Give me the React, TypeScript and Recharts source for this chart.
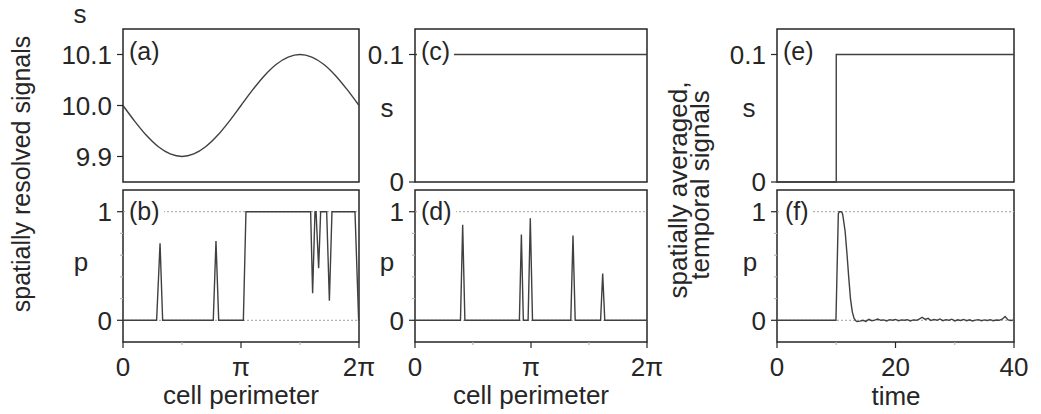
import React from "react";
import { LineChart, Line, XAxis, YAxis, ReferenceLine, ReferenceArea } from "recharts";

const FONT = "'Liberation Sans', Arial, Helvetica, sans-serif";
const INK = "#262626";
const TRACE = "#404040";
const FS = 26;

// (a) spatially resolved s along the perimeter (x in units of pi)
const perimA = [0, 0.1, 0.2, 0.3, 0.4, 0.5, 0.6, 0.7, 0.8, 0.9, 1.0, 1.1, 1.2, 1.3, 1.4, 1.5, 1.6, 1.7, 1.8, 1.9, 2.0];
const sA = [10.0, 9.969, 9.941, 9.919, 9.905, 9.9, 9.905, 9.919, 9.941, 9.969, 10.0, 10.031, 10.059, 10.081, 10.095, 10.1, 10.095, 10.081, 10.059, 10.031, 10.0];

// (b) spatially resolved p
const perimB = [0, 0.285, 0.314, 0.336, 0.765, 0.788, 0.811, 1.02, 1.042, 1.59, 1.607, 1.627, 1.636, 1.658, 1.675, 1.726, 1.749, 1.771, 1.966, 1.997, 2.0];
const pB = [0, 0, 0.71, 0, 0, 0.73, 0, 0, 1, 1, 0.25, 1, 1, 0.48, 1, 1, 0.18, 1, 1, 0, 0];

// (c) uniform s
const perimC = [0, 2];
const sC = [0.1, 0.1];

// (d) spatially resolved p for uniform s
const perimD = [0, 0.392, 0.411, 0.43, 0.9, 0.917, 0.934, 0.975, 0.994, 1.013, 1.343, 1.362, 1.381, 1.6, 1.618, 1.636, 2.0];
const pD = [0, 0, 0.88, 0, 0, 0.79, 0, 0, 0.94, 0, 0, 0.78, 0, 0, 0.43, 0, 0];

// (e) spatially averaged s over time
const timeE = [0, 10, 10, 40];
const sE = [0, 0, 0.1, 0.1];

// (f) spatially averaged p over time
const timeF = [
  0, 5, 9.95, 10.35, 10.5, 10.8, 11.0, 11.1, 11.5, 11.8, 12.1, 12.4, 12.7, 13.0, 13.3,
  13.5, 14, 14.5, 15, 15.5, 16, 16.5, 17, 17.5, 18, 18.5, 19, 19.5, 20, 20.5, 21, 21.5, 22, 22.5, 23, 23.5,
  24, 24.5, 25, 25.5, 26, 26.5, 27, 27.5, 28, 28.5, 29, 29.5, 30, 30.5, 31, 31.5, 32, 32.5, 33, 33.5,
  34, 34.5, 35, 35.5, 36, 36.5, 37, 37.5, 38, 38.5, 39, 39.5, 40,
];
const pF = [
  0, 0, 0, 0.98, 1.0, 1.0, 0.99, 0.97, 0.82, 0.62, 0.4, 0.2, 0.08, 0.02, -0.005,
  -0.012, -0.008, 0.0, -0.01, 0.008, -0.004, 0.002, 0.012, 0.0, 0.004, -0.006, 0.006, 0.0, 0.008, -0.004, 0.004, 0.0, 0.006, -0.006, 0.004, 0.0,
  0.01, 0.028, 0.008, 0.018, -0.002, 0.008, 0.0, 0.012, -0.004, 0.006, 0.0, 0.01, -0.006, 0.004, -0.002, 0.008, -0.004, 0.004, -0.006, 0.002,
  0.006, -0.004, 0.004, -0.002, 0.006, -0.004, 0.002, 0.0, 0.01, 0.035, 0.004, -0.002, 0.004,
];

// ticks ("" = minor, unlabeled)
const perimTicks = [0, 0.5, 1, 1.5, 2];
const perimTickLabels = ["0", "", "π", "", "2π"];
const timeTicks = [0, 10, 20, 30, 40];
const timeTickLabels = ["0", "", "20", "", "40"];
const sTicksA = [9.9, 10.0, 10.1];
const sTickLabelsA = ["9.9", "10.0", "10.1"];
const sTicks = [0, 0.1];
const sTickLabels = ["0", "0.1"];
const pTicks = [0, 0.2, 0.4, 0.6, 0.8, 1];
const pTickLabels = ["0", "", "", "", "", "1"];
const pGuides = [0, 1];

const ML = 75;
const MR = 34;
const MT = 12;
const MB = 45;

function findLabel(ticks: number[], labels: string[], v: number) {
  const i = ticks.findIndex((t) => Math.abs(t - v) < 1e-9);
  return i < 0 ? "" : labels[i];
}

const makeYTick = (ticks: number[], labels: string[]) => (props: any) => {
  const { x, y, payload } = props;
  const label = findLabel(ticks, labels, payload.value);
  const major = label !== "";
  return (
    <g>
      <line x1={x - (major ? 6 : 3)} x2={x} y1={y} y2={y} stroke={major ? INK : "#b5b5b5"} strokeWidth={1.2} />
      {major && (
        <text x={x - 11} y={y} dy="0.36em" textAnchor="end" fontSize={FS} fontFamily={FONT} fill={INK}>
          {label}
        </text>
      )}
    </g>
  );
};

const makeXTick = (ticks: number[], labels: string[]) => (props: any) => {
  const { x, y, payload } = props;
  const label = findLabel(ticks, labels, payload.value);
  const major = label !== "";
  return (
    <g>
      <line x1={x} x2={x} y1={y} y2={y + (major ? 6 : 3)} stroke={major ? INK : "#b5b5b5"} strokeWidth={1.2} />
      {major && (
        <text x={x} y={y + 34} textAnchor="middle" fontSize={FS} fontFamily={FONT} fill={INK}>
          {label}
        </text>
      )}
    </g>
  );
};

type PanelProps = {
  left: number;
  top: number;
  w: number;
  h: number;
  xs: number[];
  ys: number[];
  xDomain: [number, number];
  yDomain: [number, number];
  xTicks?: number[];
  xTickLabels?: string[];
  yTicks: number[];
  yTickLabels: string[];
  guides?: number[];
  curve?: "linear" | "monotone";
};

function Panel(p: PanelProps) {
  const data = p.xs.map((x, i) => ({ x, y: p.ys[i] }));
  return (
    <div style={{ position: "absolute", left: p.left - ML, top: p.top - MT }}>
      <LineChart
        width={p.w + ML + MR}
        height={p.h + MT + MB}
        data={data}
        margin={{ top: MT, right: MR, bottom: 0, left: 0 }}
      >
        <XAxis
          dataKey="x"
          type="number"
          domain={p.xDomain}
          ticks={p.xTicks ?? []}
          interval={0}
          height={MB}
          axisLine={false}
          tickLine={false}
          tickSize={0}
          tickMargin={0}
          tick={p.xTicks ? makeXTick(p.xTicks, p.xTickLabels ?? []) : false}
        />
        <YAxis
          type="number"
          domain={p.yDomain}
          ticks={p.yTicks}
          interval={0}
          width={ML}
          axisLine={false}
          tickLine={false}
          tickSize={0}
          tickMargin={0}
          tick={makeYTick(p.yTicks, p.yTickLabels)}
        />
        {(p.guides ?? []).map((g) => (
          <ReferenceLine key={g} y={g} stroke="#a0a0a0" strokeDasharray="2 2" strokeWidth={1} />
        ))}
        <Line
          type={p.curve ?? "linear"}
          dataKey="y"
          stroke={TRACE}
          strokeWidth={1.4}
          dot={false}
          activeDot={false}
          isAnimationActive={false}
        />
        <ReferenceArea
          x1={p.xDomain[0]}
          x2={p.xDomain[1]}
          y1={p.yDomain[0]}
          y2={p.yDomain[1]}
          fill="none"
          stroke={INK}
          strokeWidth={1.5}
          ifOverflow="visible"
        />
      </LineChart>
    </div>
  );
}

function PanelLabel({ text, left, top }: { text: string; left: number; top: number }) {
  return (
    <div
      style={{
        position: "absolute",
        left,
        top,
        background: "#fff",
        color: INK,
        fontFamily: FONT,
        fontSize: 25,
        lineHeight: "25px",
        padding: "0 4px 0 4px",
      }}
    >
      {text}
    </div>
  );
}

const txt = { fontFamily: FONT, fontSize: FS, fill: INK } as const;

export default function App() {
  return (
    <div style={{ position: "absolute", left: 0, top: 0, width: 1041, height: 414, background: "#fff", overflow: "hidden" }}>
      <Panel left={123} top={29} w={236} h={153} xs={perimA} ys={sA} xDomain={[0, 2]} yDomain={[9.85, 10.15]}
        yTicks={sTicksA} yTickLabels={sTickLabelsA} curve="monotone" />
      <Panel left={123} top={190} w={236} h={152} xs={perimB} ys={pB} xDomain={[0, 2]} yDomain={[-0.2, 1.2]}
        xTicks={perimTicks} xTickLabels={perimTickLabels} yTicks={pTicks} yTickLabels={pTickLabels} guides={pGuides} />
      <Panel left={415} top={29} w={232} h={153} xs={perimC} ys={sC} xDomain={[0, 2]} yDomain={[0, 0.12]}
        yTicks={sTicks} yTickLabels={sTickLabels} />
      <Panel left={415} top={190} w={232} h={152} xs={perimD} ys={pD} xDomain={[0, 2]} yDomain={[-0.2, 1.2]}
        xTicks={perimTicks} xTickLabels={perimTickLabels} yTicks={pTicks} yTickLabels={pTickLabels} guides={pGuides} />
      <Panel left={777} top={29} w={237} h={153} xs={timeE} ys={sE} xDomain={[0, 40]} yDomain={[0, 0.12]}
        yTicks={sTicks} yTickLabels={sTickLabels} />
      <Panel left={777} top={190} w={237} h={152} xs={timeF} ys={pF} xDomain={[0, 40]} yDomain={[-0.2, 1.2]}
        xTicks={timeTicks} xTickLabels={timeTickLabels} yTicks={pTicks} yTickLabels={pTickLabels} guides={pGuides} />

      <svg width={1041} height={414} style={{ position: "absolute", left: 0, top: 0, pointerEvents: "none" }}>
        <text x={80} y={23} textAnchor="middle" {...txt}>s</text>
        <text x={81} y={271} textAnchor="middle" {...txt}>p</text>
        <text x={387} y={117} textAnchor="middle" {...txt}>s</text>
        <text x={387} y={271} textAnchor="middle" {...txt}>p</text>
        <text x={749} y={117} textAnchor="middle" {...txt}>s</text>
        <text x={750} y={271} textAnchor="middle" {...txt}>p</text>
        <text x={241} y={404} textAnchor="middle" {...txt}>cell perimeter</text>
        <text x={531} y={404} textAnchor="middle" {...txt}>cell perimeter</text>
        <text x={896} y={405} textAnchor="middle" {...txt}>time</text>
        <text x={30} y={174} textAnchor="middle" transform="rotate(-90 30 174)" {...txt} fontSize={25}>
          spatially resolved signals
        </text>
        <text x={687} y={190} textAnchor="middle" transform="rotate(-90 687 190)" {...txt}>
          spatially averaged,
        </text>
        <text x={709} y={185} textAnchor="middle" transform="rotate(-90 709 185)" {...txt}>
          temporal signals
        </text>
      </svg>

      <PanelLabel text="(a)" left={125} top={39} />
      <PanelLabel text="(b)" left={125} top={199} />
      <PanelLabel text="(c)" left={417} top={39} />
      <PanelLabel text="(d)" left={417} top={199} />
      <PanelLabel text="(e)" left={779} top={39} />
      <PanelLabel text="(f)" left={781} top={199} />
    </div>
  );
}
